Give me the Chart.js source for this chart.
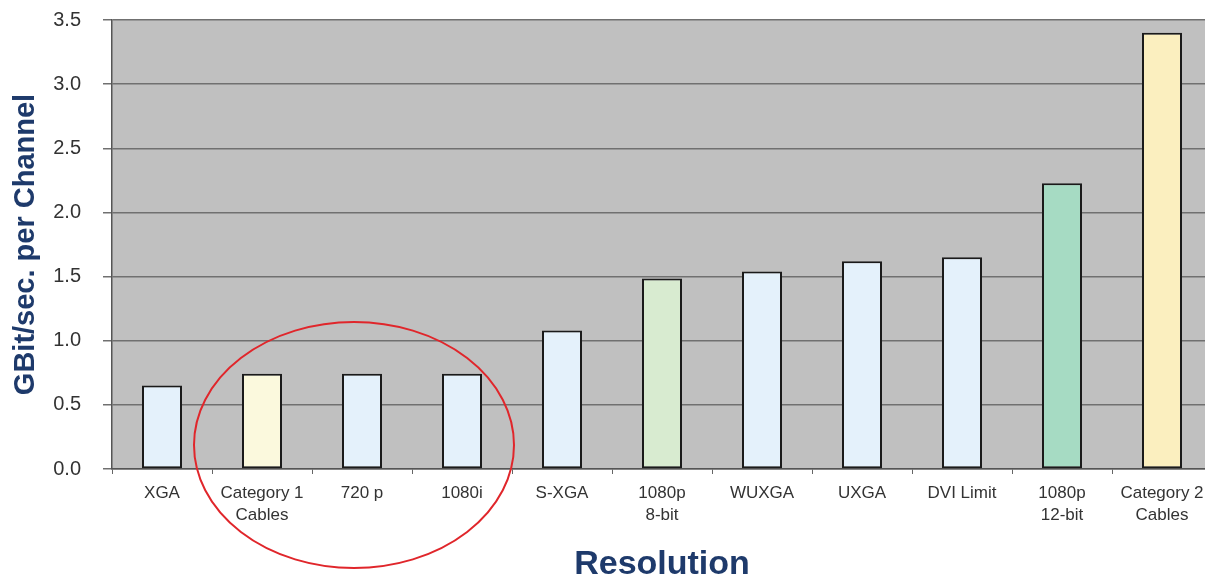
<!DOCTYPE html>
<html>
<head>
<meta charset="utf-8">
<script src="https://cdn.jsdelivr.net/npm/chart.js@4/dist/chart.umd.min.js"></script>
<style>
  html, body { margin: 0; padding: 0; background: #ffffff; overflow: hidden; }
  #wrap { position: relative; width: 1215px; height: 576px; }
</style>
</head>
<body>
<div id="wrap"><canvas id="c"></canvas></div>
<script>
// Link rate needed for each display format, in GBit/s per TMDS channel
const categories = [
  'XGA', ['Category 1', 'Cables'], '720 p', '1080i', 'S-XGA',
  ['1080p', '8-bit'], 'WUXGA', 'UXGA', 'DVI Limit', ['1080p', '12-bit'],
  ['Category 2', 'Cables']
];
const rates = [0.65, 0.7425, 0.7425, 0.7425, 1.08, 1.485, 1.54, 1.62, 1.65, 2.2275, 3.4];
const barColors = [
  '#e4f1fb', '#fbf9dd', '#e4f1fb', '#e4f1fb', '#e4f1fb',
  '#d8ebd0', '#e4f1fb', '#e4f1fb', '#e4f1fb', '#a6dbc3', '#fbefbf'
];
const yTicks = [0, 0.5, 1.0, 1.5, 2.0, 2.5, 3.0, 3.5];

const FONT = '"Liberation Sans", Arial, sans-serif';
const NAVY = '#1e3a6b';

// grey plot background
const plotBg = {
  id: 'plotBg',
  beforeDraw(chart) {
    const { ctx, chartArea: a } = chart;
    ctx.save();
    ctx.fillStyle = '#c0c0c0';
    ctx.fillRect(a.left, a.top, a.right - a.left, a.bottom - a.top);
    ctx.restore();
  }
};

// red ring around the Category 1 group (Category 1 Cables, 720 p, 1080i)
const groupRing = {
  id: 'groupRing',
  afterDraw(chart) {
    const x = chart.scales.x, y = chart.scales.y;
    const w = x.getPixelForValue(1) - x.getPixelForValue(0);
    const cx = x.getPixelForValue(2) - 0.08 * w;
    const cy = y.getPixelForValue(0) - 0.24 * w;
    const ctx = chart.ctx;
    ctx.save();
    ctx.strokeStyle = '#e0262b';
    ctx.lineWidth = 2;
    ctx.beginPath();
    ctx.ellipse(cx, cy, 1.6 * w, 1.23 * w, 0, 0, Math.PI * 2);
    ctx.stroke();
    ctx.restore();
  }
};

new Chart(document.getElementById('c'), {
  type: 'bar',
  data: {
    labels: categories,
    datasets: [{
      data: rates,
      backgroundColor: barColors,
      borderColor: '#1a1a1a',
      borderWidth: 2,
      borderSkipped: false,
      categoryPercentage: 1.0,
      barPercentage: 0.4
    }]
  },
  options: {
    responsive: true,
    maintainAspectRatio: false,
    animation: false,
    layout: { padding: { top: 20, right: 3, bottom: 0, left: 0 } },
    plugins: { legend: { display: false }, tooltip: { enabled: false } },
    scales: {
      x: {
        afterFit(s) { s.height = 107; s.paddingLeft = 0; s.paddingRight = 0; },
        grid: { drawOnChartArea: false, drawTicks: true, tickLength: 5, color: '#666666', lineWidth: 1 },
        border: { color: '#555555', width: 1.5 },
        ticks: { color: '#333333', padding: 8, maxRotation: 0, autoSkip: false,
                 font: { family: FONT, size: 17, lineHeight: 1.3 } },
        title: { display: true, text: 'Resolution', color: NAVY,
                 font: { family: FONT, size: 34, weight: 'bold', lineHeight: 0.65 },
                 padding: { top: 0, bottom: 0 } }
      },
      y: {
        min: 0, max: 3.5,
        afterFit(s) { s.width = 112; s.paddingTop = 0; s.paddingBottom = 0; },
        afterBuildTicks(s) { s.ticks = yTicks.map(v => ({ value: v })); },
        grid: { color: '#707070', lineWidth: 1.5, tickLength: 9 },
        border: { color: '#555555', width: 1.5 },
        ticks: { color: '#333333', padding: 22,
                 font: { family: FONT, size: 20 },
                 callback: v => Number(v).toFixed(1) },
        title: { display: true, text: 'GBit/sec. per Channel', color: NAVY,
                 font: { family: FONT, size: 29, weight: 'bold', lineHeight: 1 },
                 padding: { top: 11, bottom: 0 } }
      }
    }
  },
  plugins: [plotBg, groupRing]
});
</script>
</body>
</html>
